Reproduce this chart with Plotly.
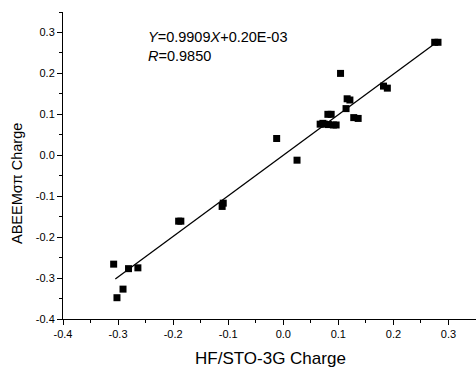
import plotly.graph_objects as go

hf_charge = [-0.308, -0.302, -0.291, -0.281, -0.264, -0.190, -0.186, -0.111, -0.109,
             -0.012, 0.025, 0.067, 0.072, 0.075, 0.082, 0.091, 0.096, 0.081, 0.087,
             0.104, 0.114, 0.116, 0.121, 0.128, 0.136, 0.182, 0.189, 0.275, 0.281]
abeem_charge = [-0.266, -0.348, -0.327, -0.277, -0.275, -0.161, -0.161, -0.125, -0.117,
                0.041, -0.012, 0.076, 0.078, 0.076, 0.075, 0.074, 0.074, 0.100, 0.100,
                0.200, 0.114, 0.138, 0.135, 0.092, 0.090, 0.169, 0.164, 0.276, 0.276]
slope = 0.9909
intercept = 0.20e-03
fit_x = [-0.305, 0.278]
fit_y = [slope * v + intercept for v in fit_x]

x_ticks = [-0.4, -0.3, -0.2, -0.1, 0.0, 0.1, 0.2, 0.3]
y_ticks = [-0.4, -0.3, -0.2, -0.1, 0.0, 0.1, 0.2, 0.3]

FONT = "Liberation Sans, Arial, sans-serif"

fig = go.Figure()
fig.add_trace(go.Scatter(x=fit_x, y=fit_y, mode="lines",
                         line=dict(color="black", width=1.3), showlegend=False))
fig.add_trace(go.Scatter(x=hf_charge, y=abeem_charge, mode="markers",
                         marker=dict(symbol="square", size=7, color="black"),
                         showlegend=False))

W, H = 476, 368
L, R, T, B = 63, 0, 12, 49
fig.update_layout(
    width=W, height=H,
    margin=dict(l=L, r=R, t=T, b=B),
    paper_bgcolor="white", plot_bgcolor="white",
    font=dict(family=FONT, color="black", size=11),
    xaxis=dict(range=[-0.4, 0.35], tickvals=x_ticks,
               ticktext=[f"{v:.1f}" for v in x_ticks],
               showgrid=False, zeroline=False, showline=True, linecolor="black",
               linewidth=1, ticks="outside", ticklen=5, tickcolor="black",
               minor=dict(dtick=0.05, ticks="outside", ticklen=3, tickcolor="black"),
               tickfont=dict(size=11, family=FONT), fixedrange=True),
    yaxis=dict(range=[-0.4, 0.35], tickvals=y_ticks,
               ticktext=[f"{v:.1f}" for v in y_ticks],
               showgrid=False, zeroline=False, showline=True, linecolor="black",
               linewidth=1, ticks="outside", ticklen=5, tickcolor="black",
               minor=dict(dtick=0.05, ticks="outside", ticklen=3, tickcolor="black"),
               tickfont=dict(size=11, family=FONT), fixedrange=True),
)

pw = W - L - R
ph = H - T - B
def px_x(p):
    return (p - L) / pw
def px_y(p):
    return (H - B - p) / ph

fig.add_annotation(text="HF/STO-3G Charge", xref="paper", yref="paper",
                   x=px_x(270), y=px_y(358), showarrow=False,
                   font=dict(size=17, family=FONT), xanchor="center", yanchor="middle")
fig.add_annotation(text="ABEEMσπ Charge", xref="paper", yref="paper",
                   x=px_x(17), y=px_y(184), showarrow=False, textangle=-90,
                   font=dict(size=14.5, family=FONT), xanchor="center", yanchor="middle")
fig.add_annotation(text="<i>Y</i>=0.9909<i>X</i>+0.20E-03<br><i>R</i>=0.9850",
                   xref="paper", yref="paper", x=px_x(146), y=px_y(27),
                   showarrow=False, align="left", xanchor="left", yanchor="top",
                   font=dict(size=14.5, family=FONT))

fig.write_html("out.html")
